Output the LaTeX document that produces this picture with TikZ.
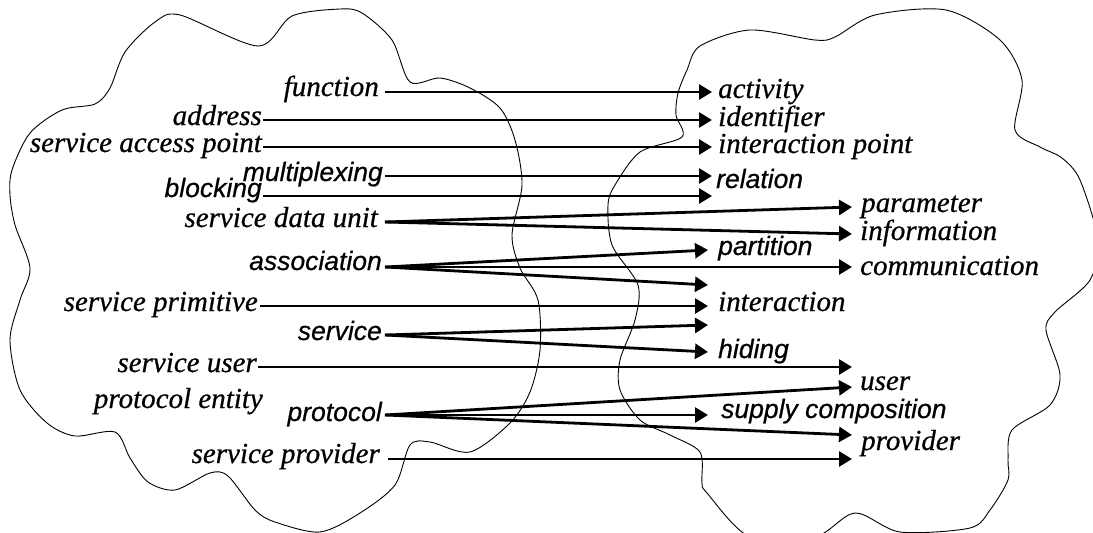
\documentclass[tikz,border=0pt]{standalone}
\usepackage{fontspec}
\setmainfont{Liberation Serif}[ItalicFeatures={FakeBold=0.6}]
\newfontfamily\helv{Liberation Sans}[ItalicFeatures={FakeBold=0.6}]
\usetikzlibrary{arrows.meta}
\begin{document}
\begin{tikzpicture}[x=1pt,y=-1pt,
  serif/.style={font=\fontsize{29}{32}\selectfont\itshape, inner sep=0pt},
  sans/.style={font=\helv\fontsize{26.5}{30}\selectfont\itshape, inner sep=0pt},
  src/.style={anchor=base east},
  dst/.style={anchor=base west},
  link/.style={line width=2.8pt, -{Triangle[length=13pt,width=15pt]}},
  cloud/.style={line width=0.9pt}]
\useasboundingbox (0,0) rectangle (1093,533);
\fill[white] (0,0) rectangle (1093,533);
\clip (0,0) rectangle (1093,533);

% left cloud: the OSI terms
\draw[cloud] plot[smooth cycle, tension=0.5] coordinates {
  (12,170) (30,133) (62,110) (95,104) (110,88) (125,52) (155,22) (180,15)
  (258,46) (292,16) (340,9) (362,13) (392,40) (410,82) (440,78) (470,88)
  (500,108) (515,140) (522,185) (512,235) (520,268) (538,300) (540,350)
  (530,392) (510,423) (470,452) (430,442) (410,445) (395,485) (360,513)
  (320,532) (275,522) (255,510) (228,476) (210,473) (175,490) (148,482)
  (130,458) (115,432) (75,436) (47,423) (20,390) (10,340) (20,300)
  (30,268) (15,225) (10,195)};

% right cloud: the architectural concepts
\draw[cloud] plot[smooth cycle, tension=0.5] coordinates {
  (682,137) (676,115) (678,93) (687,70) (700,46) (750,30) (815,40)
  (835,37) (875,15) (946,10) (1000,40) (1022,80) (1015,130) (1040,147)
  (1062,158) (1080,180) (1098,240) (1090,280) (1055,312) (1046,330)
  (1060,375) (1050,405) (1012,430) (1008,460) (1008,480) (990,510)
  (970,528) (900,532) (855,513) (815,537) (750,537) (707,493) (702,483)
  (700,452) (670,435) (640,420) (620,390) (620,360) (635,320) (638,285)
  (612,245) (608,205) (615,185) (640,152)};

% source terms
\node[serif,src] (function)  at (379,96)  {function};
\node[serif,src] (address)   at (262,125) {address};
\node[serif,src] (sap)       at (262,152) {service access point};
\node[sans,src]  (multiplex) at (383,181) {multiplexing};
\node[sans,src]  (blocking)  at (262,197) {blocking};
\node[serif,src] (sdu)       at (378,227) {service data unit};
\node[sans,src]  (assoc)     at (382,270) {association};
\node[serif,src] (sprim)     at (258,311) {service primitive};
\node[sans,src]  (service)   at (382,340) {service};
\node[serif,src] (suser)     at (257,372) {service user};
\node[serif,src] (pentity)   at (263,408) {protocol entity};
\node[sans,src]  (protocol)  at (382,421) {protocol};
\node[serif,src] (sprov)     at (380,463) {service provider};

% target concepts
\node[serif,dst] (activity)   at (718,98)  {activity};
\node[serif,dst] (identifier) at (718,126) {identifier};
\node[serif,dst] (ipoint)     at (718,153) {interaction point};
\node[sans,dst]  (relation)   at (716,188) {relation};
\node[serif,dst] (parameter)  at (861,212) {parameter};
\node[serif,dst] (information) at (860,240) {information};
\node[sans,dst]  (partition)  at (718,255) {partition};
\node[serif,dst] (communication) at (860,275) {communication};
\node[serif,dst] (interaction) at (718,311) {interaction};
\node[sans,dst]  (hiding)     at (718,358) {hiding};
\node[serif,dst] (user)       at (860,390) {user};
\node[sans,dst]  (supply)     at (721,418) {supply composition};
\node[serif,dst] (provider)   at (861,450) {provider};

% connector ends
\coordinate (function-o)  at (385,92);
\coordinate (address-o)   at (263,120);
\coordinate (sap-o)       at (263,147);
\coordinate (multiplex-o) at (385,176);
\coordinate (blocking-o)  at (263,196);
\coordinate (sdu-o)       at (385,222);
\coordinate (assoc-o)     at (385,267);
\coordinate (sprim-o)     at (260,306);
\coordinate (service-o)   at (385,335);
\coordinate (suser-o)     at (258,367);
\coordinate (protocol-o)  at (385,415);
\coordinate (sprov-o)     at (388,459);

\coordinate (activity-i)   at (712,92);
\coordinate (identifier-i) at (712,120);
\coordinate (ipoint-i)     at (712,147);
\coordinate (relation-i)   at (712,176);
\coordinate (relation-j)   at (712,196);
\coordinate (parameter-i)  at (852,207);
\coordinate (information-i) at (852,234);
\coordinate (partition-i)  at (708,250);
\coordinate (communication-i) at (852,267);
\coordinate (interaction-j) at (708,285);
\coordinate (interaction-i) at (708,306);
\coordinate (hiding-j)     at (708,325);
\coordinate (hiding-i)     at (708,352);
\coordinate (user-i)       at (852,367);
\coordinate (user-j)       at (852,387);
\coordinate (supply-i)     at (708,415);
\coordinate (provider-i)   at (852,435);
\coordinate (provider-j)   at (852,459);

\draw[link] (function-o)  -- (activity-i);
\draw[link] (address-o)   -- (identifier-i);
\draw[link] (sap-o)       -- (ipoint-i);
\draw[link] (multiplex-o) -- (relation-i);
\draw[link] (blocking-o)  -- (relation-j);
\draw[link] (sdu-o)       -- (parameter-i);
\draw[link] (sdu-o)       -- (information-i);
\draw[link] (assoc-o)     -- (partition-i);
\draw[link] (assoc-o)     -- (communication-i);
\draw[link] (assoc-o)     -- (interaction-j);
\draw[link] (sprim-o)     -- (interaction-i);
\draw[link] (service-o)   -- (hiding-j);
\draw[link] (service-o)   -- (hiding-i);
\draw[link] (suser-o)     -- (user-i);
\draw[link] (protocol-o)  -- (user-j);
\draw[link] (protocol-o)  -- (supply-i);
\draw[link] (protocol-o)  -- (provider-i);
\draw[link] (sprov-o)     -- (provider-j);
\end{tikzpicture}
\end{document}
